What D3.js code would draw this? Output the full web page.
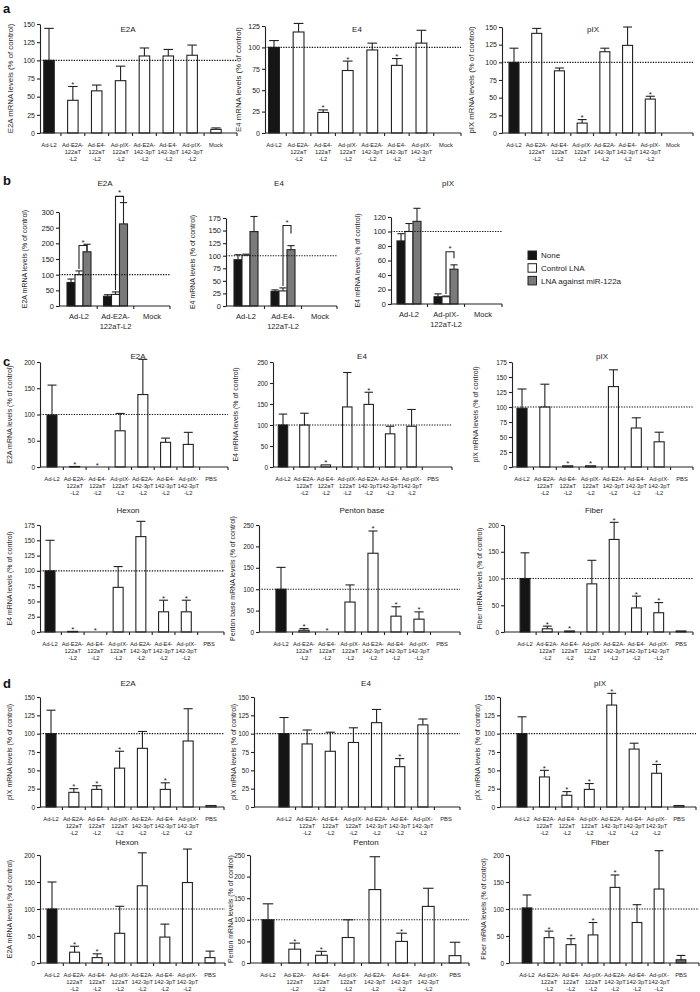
<!DOCTYPE html>
<html>
<head>
<meta charset="utf-8">
<title>Adenovirus mRNA levels</title>
<script src="https://cdn.jsdelivr.net/npm/d3@7"></script>
<style>
  body { margin: 0; background: #fff; }
  svg { font-family: "Liberation Sans", Arial, sans-serif; }
  .xlab { font-family: "Liberation Sans Narrow", "Liberation Sans", Arial, sans-serif; }
</style>
</head>
<body>
<svg id="fig" width="700" height="992"></svg>
<script>
// ---- categories ----
var catsMock = ["Ad-L2", "Ad-E2A-|122aT|-L2", "Ad-E4-|122aT|-L2", "Ad-pIX-|122aT|-L2",
                "Ad-E2A-|142-3pT|-L2", "Ad-E4-|142-3pT|-L2", "Ad-pIX-|142-3pT|-L2", "Mock"];
var catsPBS = ["Ad-L2", "Ad-E2A-|122aT|-L2", "Ad-E4-|122aT|-L2", "Ad-pIX-|122aT|-L2",
               "Ad-E2A-|142-3pT|-L2", "Ad-E4-|142-3pT|-L2", "Ad-pIX-|142-3pT|-L2", "PBS"];
var catsBE2A = ["Ad-L2", "Ad-E2A-|122aT-L2", "Mock"];
var catsBE4 = ["Ad-L2", "Ad-E4-|122aT-L2", "Mock"];
var catsBpIX = ["Ad-L2", "Ad-pIX-|122aT-L2", "Mock"];
var legendNames = ["None", "Control LNA", "LNA against miR-122a"];

// ---- panel a ----
var aE2A = [100, 45, 58, 72, 106, 106, 107, 5];
var aE2AErr = [44, 19, 8, 20, 11, 9, 14, 2];
var aE2AStar = [1];
var aE4 = [100, 118, 24, 73, 97, 79, 105, 0];
var aE4Err = [8, 10, 3, 11, 8, 8, 15, 0];
var aE4Star = [2, 3, 5];
var apIX = [100, 141, 88, 14, 115, 124, 48, 0];
var apIXErr = [20, 7, 4, 5, 5, 26, 4, 0];
var apIXStar = [3, 6];

// ---- panel b (None, Control LNA, LNA against miR-122a) ----
var bE2ANone = [75, 31, 0], bE2ANoneErr = [11, 5, 0];
var bE2ACtrl = [100, 37, 0], bE2ACtrlErr = [12, 8, 0];
var bE2ALna = [173, 262, 0], bE2ALnaErr = [24, 68, 0];
var bE2ASig = [[0, 193, 174], [1, 350, 330]];
var bE4None = [92, 29, 0], bE4NoneErr = [10, 3, 0];
var bE4Ctrl = [101, 30, 0], bE4CtrlErr = [2, 6, 0];
var bE4Lna = [148, 112, 0], bE4LnaErr = [30, 8, 0];
var bE4Sig = [[1, 160, 144]];
var bpIXNone = [87, 10, 0], bpIXNoneErr = [10, 4, 0];
var bpIXCtrl = [100, 10, 0], bpIXCtrlErr = [11, 1, 0];
var bpIXLna = [114, 48, 0], bpIXLnaErr = [18, 6, 0];
var bpIXSig = [[1, 72, 63]];

// ---- panel c ----
var cE2A = [99, 1, 0, 69, 138, 47, 43, 0];
var cE2AErr = [57, 0, 0, 33, 67, 8, 23, 0];
var cE2AStar = [1, 2];
var cE4 = [100, 100, 5, 143, 149, 79, 97, 0];
var cE4Err = [26, 28, 0, 82, 29, 18, 40, 0];
var cE4Star = [2, 4];
var cpIX = [98, 100, 2, 2, 134, 65, 42, 0];
var cpIXErr = [32, 38, 0, 0, 28, 17, 16, 0];
var cpIXStar = [2, 3];
var cHexon = [100, 1, 0, 73, 156, 33, 33, 0];
var cHexonErr = [50, 0, 0, 34, 25, 19, 19, 0];
var cHexonStar = [1, 2, 5, 6];
var cPenton = [100, 4, 0, 70, 184, 37, 30, 0];
var cPentonErr = [51, 4, 0, 40, 52, 22, 17, 0];
var cPentonStar = [1, 2, 4, 5, 6];
var cFiber = [100, 6, 2, 90, 173, 45, 36, 2];
var cFiberErr = [48, 5, 0, 44, 32, 22, 19, 0];
var cFiberStar = [1, 2, 4, 5, 6];

// ---- panel d ----
var dE2A = [100, 20, 24, 53, 80, 24, 90, 2];
var dE2AErr = [32, 5, 5, 23, 23, 9, 44, 0];
var dE2AStar = [1, 2, 3, 5];
var dE4 = [100, 86, 76, 88, 115, 55, 112, 0];
var dE4Err = [22, 19, 26, 20, 18, 11, 8, 0];
var dE4Star = [5];
var dpIX = [100, 41, 16, 24, 139, 79, 46, 2];
var dpIXErr = [23, 9, 5, 8, 16, 8, 12, 0];
var dpIXStar = [1, 2, 3, 4, 6];
var dHexon = [100, 20, 10, 55, 143, 48, 149, 10];
var dHexonErr = [50, 11, 7, 50, 61, 24, 62, 12];
var dHexonStar = [1, 2];
var dPenton = [100, 32, 18, 59, 170, 50, 131, 17];
var dPentonErr = [37, 14, 9, 41, 76, 19, 42, 31];
var dPentonStar = [1, 2, 5];
var dFiber = [102, 47, 34, 52, 140, 75, 137, 6];
var dFiberErr = [24, 12, 11, 23, 23, 33, 71, 8];
var dFiberStar = [1, 2, 3, 4];

var svg = d3.select("#fig");
var ink = "#222";

function yTitle(c) {
  svg.append("text")
     .attr("transform", "translate(" + c.lx + "," + ((c.y0 + c.yt) / 2) + ") rotate(-90)")
     .attr("text-anchor", "middle").attr("dy", "0.35em")
     .style("font-size", c.lf || "7px").attr("fill", ink)
     .text(c.ylab);
}

function axes(c, x, y, step, tickFont) {
  // y axis
  var ya = svg.append("g").attr("transform", "translate(" + c.ax + ",0)")
    .call(d3.axisLeft(y).tickValues(d3.range(0, c.tmax + 0.01, c.tstep))
      .tickSize(3).tickSizeOuter(0).tickPadding(2));
  ya.selectAll("path,line").attr("stroke", ink).attr("stroke-width", 1.1);
  ya.selectAll("text").style("font-size", tickFont).attr("fill", ink);
  // x axis: line plus ticks between categories
  svg.append("line").attr("x1", c.ax).attr("x2", c.x1).attr("y1", c.y0).attr("y2", c.y0)
     .attr("stroke", ink).attr("stroke-width", 1.1);
  var bounds = c.cats.slice(1).map(function(k) { return x(k); }).concat([c.x1]);
  svg.selectAll(null).data(bounds).enter().append("line")
     .attr("x1", function(d) { return d; }).attr("x2", function(d) { return d; })
     .attr("y1", c.y0).attr("y2", c.y0 + 3)
     .attr("stroke", ink).attr("stroke-width", 1.1);
  // title
  svg.append("text").attr("x", c.tx).attr("y", c.ty).attr("text-anchor", "middle")
     .style("font-size", "8px").attr("fill", ink).text(c.title);
  yTitle(c);
}

function xLabels(c, x, size, dy0, lh, cls) {
  c.cats.forEach(function(k) {
    var t = svg.append("text").attr("class", cls).attr("text-anchor", "middle")
               .style("font-size", size).attr("fill", ink);
    k.split("|").forEach(function(s, j) {
      t.append("tspan").attr("x", x(k) + x.bandwidth() / 2).attr("y", c.y0 + dy0 + j * lh).text(s);
    });
  });
}

function dotted(c, y) {
  svg.append("line").attr("x1", c.ax).attr("x2", c.x1).attr("y1", y(100)).attr("y2", y(100))
     .attr("stroke", "#111").attr("stroke-width", 1.1).attr("stroke-dasharray", "1.3,1.3");
}

function drawChart(c) {
  var n = c.cats.length;
  var step = (c.c1 - c.c0) / (n - 1);
  var x = d3.scaleBand().domain(c.cats).range([c.c0 - step / 2, c.c1 + step / 2]);
  var y = d3.scaleLinear().domain([0, c.tmax]).range([c.y0, c.yt]);
  var bw = step * 0.44;
  var cx = function(i) { return x(c.cats[i]) + x.bandwidth() / 2; };

  svg.selectAll(null).data(c.vals).enter().append("rect")
     .attr("x", function(d, i) { return cx(i) - bw / 2; })
     .attr("width", bw)
     .attr("y", function(d) { return y(d); })
     .attr("height", function(d) { return c.y0 - y(d); })
     .attr("fill", function(d, i) { return i === 0 ? "#151515" : (i === c.gray ? "#6d6d6d" : "#fff"); })
     .attr("stroke", ink).attr("stroke-width", function(d) { return d > 0 ? 1.1 : 0; });

  // error bars (upper only)
  c.vals.forEach(function(v, i) {
    var e = c.errs[i];
    if (e <= 0) return;
    svg.append("line").attr("x1", cx(i)).attr("x2", cx(i)).attr("y1", y(v)).attr("y2", y(v + e))
       .attr("stroke", ink).attr("stroke-width", 1.1);
    svg.append("line").attr("x1", cx(i) - bw * 0.45).attr("x2", cx(i) + bw * 0.45)
       .attr("y1", y(v + e)).attr("y2", y(v + e)).attr("stroke", ink).attr("stroke-width", 1.1);
  });

  c.stars.forEach(function(i) {
    svg.append("text").attr("x", cx(i)).attr("y", y(c.vals[i] + c.errs[i]) + 0.5)
       .attr("text-anchor", "middle").style("font-size", "8px").attr("fill", ink).text("*");
  });

  dotted(c, y);
  axes(c, x, y, step, c.tf || "6.5px");
  xLabels(c, x, "5.8px", 14, 7, "xlab");
}

function drawGrouped(c) {
  var n = c.cats.length;
  var step = (c.c1 - c.c0) / (n - 1);
  var x = d3.scaleBand().domain(c.cats).range([c.c0 - step / 2, c.c1 + step / 2]);
  var y = d3.scaleLinear().domain([0, c.tmax]).range([c.y0, c.yt]);
  var sub = d3.scaleBand().domain([0, 1, 2]).range([-12, 12]);
  var bw = sub.bandwidth();
  var fills = ["#151515", "#fff", "#7a7a7a"];
  var cx = function(g, s) { return x(c.cats[g]) + x.bandwidth() / 2 + sub(s) + bw / 2; };

  c.series.forEach(function(vals, s) {
    vals.forEach(function(v, g) {
      var e = c.errs[s][g];
      if (v <= 0) return;
      if (e > 0) {
        svg.append("line").attr("x1", cx(g, s)).attr("x2", cx(g, s)).attr("y1", y(v)).attr("y2", y(v + e))
           .attr("stroke", ink).attr("stroke-width", 1.1);
        svg.append("line").attr("x1", cx(g, s) - bw * 0.45).attr("x2", cx(g, s) + bw * 0.45)
           .attr("y1", y(v + e)).attr("y2", y(v + e)).attr("stroke", ink).attr("stroke-width", 1.1);
      }
    });
    svg.selectAll(null).data(vals).enter().append("rect")
       .attr("x", function(d, g) { return cx(g, s) - bw / 2; })
       .attr("width", bw)
       .attr("y", function(d) { return y(d); })
       .attr("height", function(d) { return c.y0 - y(d); })
       .attr("fill", fills[s])
       .attr("stroke", ink).attr("stroke-width", function(d) { return d > 0 ? 1.1 : 0; });
  });

  // significance brackets between control LNA and LNA against miR-122a
  c.sig.forEach(function(b) {
    var g = b[0];
    var lx = cx(g, 1), rx = cx(g, 2);
    var lb = y(c.series[1][g] + c.errs[1][g]) - 2;
    svg.append("path")
       .attr("d", "M" + lx + "," + lb + "V" + y(b[1]) + "H" + rx + "V" + y(b[2]))
       .attr("fill", "none").attr("stroke", ink).attr("stroke-width", 1.1);
    svg.append("text").attr("x", (lx + rx) / 2).attr("y", y(b[1]) - 1)
       .attr("text-anchor", "middle").style("font-size", "8px").attr("fill", ink).text("*");
  });

  dotted(c, y);
  axes(c, x, y, step, "7.5px");
  xLabels(c, x, "7.5px", 13, 10, "");
}

// ---- layout of the panels ----
var charts = [
  // a
  {cats: catsMock, vals: aE2A, errs: aE2AErr, stars: aE2AStar, title: "E2A", ylab: "E2A mRNA levels (% of control)",
   tmax: 150, tstep: 25, ax: 40, c0: 49, c1: 216, x1: 237, y0: 133, yt: 24, tx: 128, ty: 32, lx: 10, lf: "7.8px", tf: "7px"},
  {cats: catsMock, vals: aE4, errs: aE4Err, stars: aE4Star, title: "E4", ylab: "E4 mRNA levels (% of control)",
   tmax: 125, tstep: 25, ax: 265, c0: 274, c1: 446, x1: 461, y0: 133, yt: 26, tx: 357, ty: 32, lx: 238, lf: "7.8px", tf: "7px"},
  {cats: catsMock, vals: apIX, errs: apIXErr, stars: apIXStar, title: "pIX", ylab: "pIX mRNA levels (% of control)",
   tmax: 150, tstep: 25, ax: 502, c0: 514, c1: 673, x1: 693, y0: 133, yt: 27, tx: 593, ty: 32, lx: 471, lf: "7.8px", tf: "7px"},
  // c, first row
  {cats: catsPBS, vals: cE2A, errs: cE2AErr, stars: cE2AStar, title: "E2A", ylab: "E2A mRNA levels (% of control)",
   tmax: 200, tstep: 50, ax: 40, c0: 52, c1: 211, x1: 228, y0: 467, yt: 362, tx: 138, ty: 359, lx: 10},
  {cats: catsPBS, vals: cE4, errs: cE4Err, stars: cE4Star, title: "E4", ylab: "E4 mRNA levels (% of control)",
   tmax: 250, tstep: 50, ax: 273, c0: 283, c1: 433, x1: 452, y0: 467, yt: 362, tx: 362, ty: 359, lx: 236},
  {cats: catsPBS, vals: cpIX, errs: cpIXErr, stars: cpIXStar, title: "pIX", ylab: "pIX mRNA levels (% of control)",
   tmax: 175, tstep: 25, ax: 512, c0: 522, c1: 682, x1: 693, y0: 467, yt: 362, tx: 602, ty: 359, lx: 476},
  // c, second row
  {cats: catsPBS, vals: cHexon, errs: cHexonErr, stars: cHexonStar, title: "Hexon", ylab: "E4 mRNA levels (% of control)",
   tmax: 175, tstep: 25, ax: 40, c0: 50, c1: 209, x1: 224, y0: 632, yt: 525, tx: 128, ty: 513, lx: 10},
  {cats: catsPBS, vals: cPenton, errs: cPentonErr, stars: cPentonStar, title: "Penton base", ylab: "Penton base mRNA levels (% of control)",
   tmax: 250, tstep: 50, ax: 259, c0: 281, c1: 442, x1: 460, y0: 632, yt: 525, tx: 362, ty: 513, lx: 233},
  {cats: catsPBS, vals: cFiber, errs: cFiberErr, stars: cFiberStar, title: "Fiber", ylab: "Fiber mRNA levels (% of control)",
   tmax: 200, tstep: 50, ax: 504, c0: 525, c1: 681, x1: 693, y0: 632, yt: 525, tx: 594, ty: 513, lx: 480},
  // d, first row
  {cats: catsPBS, vals: dE2A, errs: dE2AErr, stars: dE2AStar, title: "E2A", ylab: "pIX mRNA levels (% of control)",
   tmax: 150, tstep: 25, ax: 40, c0: 51, c1: 211, x1: 224, y0: 807, yt: 697, tx: 128, ty: 686, lx: 10},
  {cats: catsPBS, vals: dE4, errs: dE4Err, stars: dE4Star, title: "E4", ylab: "pIX mRNA levels (% of control)",
   tmax: 150, tstep: 25, ax: 254, c0: 284, c1: 446, x1: 460, y0: 807, yt: 697, tx: 366, ty: 686, lx: 234},
  {cats: catsPBS, vals: dpIX, errs: dpIXErr, stars: dpIXStar, title: "pIX", ylab: "pIX mRNA levels (% of control)",
   tmax: 150, tstep: 25, ax: 500, c0: 522, c1: 679, x1: 696, y0: 807, yt: 697, tx: 600, ty: 686, lx: 478},
  // d, second row
  {cats: catsPBS, vals: dHexon, errs: dHexonErr, stars: dHexonStar, title: "Hexon", ylab: "E2A mRNA levels (% of control)",
   tmax: 200, tstep: 50, ax: 40, c0: 52, c1: 210, x1: 225, y0: 963, yt: 855, tx: 127, ty: 845, lx: 10},
  {cats: catsPBS, vals: dPenton, errs: dPentonErr, stars: dPentonStar, title: "Penton", ylab: "Penton mRNA levels (% of control)",
   tmax: 250, tstep: 50, ax: 250, c0: 268, c1: 455, x1: 469, y0: 963, yt: 855, tx: 366, ty: 845, lx: 231},
  {cats: catsPBS, vals: dFiber, errs: dFiberErr, stars: dFiberStar, title: "Fiber", ylab: "Fiber mRNA levels (% of control)",
   tmax: 200, tstep: 50, ax: 509, c0: 527, c1: 681, x1: 699, y0: 963, yt: 855, tx: 600, ty: 845, lx: 484, gray: 7}
];
charts.forEach(drawChart);

var groups = [
  {cats: catsBE2A, series: [bE2ANone, bE2ACtrl, bE2ALna], errs: [bE2ANoneErr, bE2ACtrlErr, bE2ALnaErr], sig: bE2ASig,
   title: "E2A", ylab: "E2A mRNA levels (% of control)",
   tmax: 300, tstep: 50, ax: 59, c0: 79, c1: 152, x1: 170, y0: 306, yt: 212, tx: 105, ty: 186, lx: 25},
  {cats: catsBE4, series: [bE4None, bE4Ctrl, bE4Lna], errs: [bE4NoneErr, bE4CtrlErr, bE4LnaErr], sig: bE4Sig,
   title: "E4", ylab: "E4 mRNA levels (% of control)",
   tmax: 175, tstep: 25, ax: 226, c0: 246, c1: 320, x1: 337, y0: 306, yt: 218, tx: 279, ty: 186, lx: 193},
  {cats: catsBpIX, series: [bpIXNone, bpIXCtrl, bpIXLna], errs: [bpIXNoneErr, bpIXCtrlErr, bpIXLnaErr], sig: bpIXSig,
   title: "pIX", ylab: "E4 mRNA levels (% of control)",
   tmax: 120, tstep: 20, ax: 391, c0: 409, c1: 483, x1: 502, y0: 304, yt: 217, tx: 448, ty: 186, lx: 358}
];
groups.forEach(drawGrouped);

// legend for panel b
var legFill = ["#151515", "#fff", "#7a7a7a"];
var leg = svg.append("g").attr("transform", "translate(528,251)");
legendNames.forEach(function(name, i) {
  leg.append("rect").attr("x", 0).attr("y", i * 12.7).attr("width", 8.5).attr("height", 8.5)
     .attr("fill", legFill[i]).attr("stroke", ink).attr("stroke-width", 1);
  leg.append("text").attr("x", 13).attr("y", i * 12.7 + 4.3).attr("dy", "0.35em")
     .style("font-size", "8px").attr("fill", ink).text(name);
});

// panel letters
[["a", 13], ["b", 185], ["c", 366], ["d", 688]].forEach(function(p) {
  svg.append("text").attr("x", 3).attr("y", p[1]).style("font-size", "13px")
     .style("font-weight", "bold").attr("fill", "#111").text(p[0]);
});
</script>
</body>
</html>
